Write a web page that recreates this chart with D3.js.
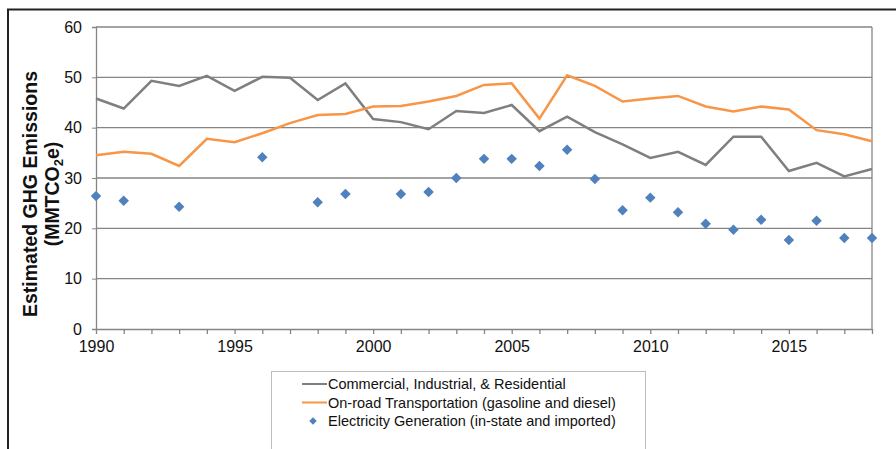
<!DOCTYPE html>
<html>
<head>
<meta charset="utf-8">
<script src="https://cdn.jsdelivr.net/npm/d3@7"></script>
<style>
  body { margin: 0; background: #fff; }
  svg { display: block; font-family: "Liberation Sans", Arial, sans-serif; }
</style>
</head>
<body>
<svg id="chart" width="896" height="449"></svg>
<script>
// data
const years = d3.range(1990, 2019);
const commercial = [45.8, 43.8, 49.3, 48.3, 50.3, 47.3, 50.1, 49.9, 45.5, 48.8, 41.7, 41.1, 39.7, 43.3, 42.9, 44.5, 39.3, 42.2, 39.1, 36.7, 34.0, 35.2, 32.6, 38.2, 38.2, 31.4, 33.0, 30.3, 31.8];
const onroad = [34.5, 35.2, 34.8, 32.4, 37.8, 37.1, 38.9, 40.9, 42.5, 42.7, 44.2, 44.3, 45.2, 46.3, 48.5, 48.8, 41.8, 50.4, 48.3, 45.2, 45.8, 46.3, 44.2, 43.2, 44.2, 43.6, 39.5, 38.7, 37.3];
const electricity = [26.4, 25.5, null, 24.3, null, null, 34.1, null, 25.2, 26.8, null, 26.8, 27.2, 30.0, 33.8, 33.8, 32.4, 35.6, 29.8, 23.6, 26.1, 23.2, 20.9, 19.7, 21.7, 17.7, 21.5, 18.1, 18.1];
const yTicks = [0, 10, 20, 30, 40, 50, 60];
const xTicks = [1990, 1995, 2000, 2005, 2010, 2015];
const legendLabels = [
    "Commercial, Industrial, & Residential",
    "On-road Transportation (gasoline and diesel)",
    "Electricity Generation (in-state and imported)"
];

const colors = { gray: "#7f7f7f", orange: "#f79646", blue: "#4f81bd" };

const svg = d3.select("#chart");
const plotLeft = 96, plotRight = 872, plotTop = 27, plotBottom = 329;

const x = d3.scaleLinear().domain([1990, 2018]).range([plotLeft, plotRight]);
const y = d3.scaleLinear().domain([0, 60]).range([plotBottom, plotTop]);

// outer frame (only left + top visible in reference)
svg.append("path")
    .attr("d", `M8,449 V9.5 H896`)
    .attr("fill", "none")
    .attr("stroke", "#222")
    .attr("stroke-width", 2);

// gridlines
svg.append("g")
    .selectAll("line")
    .data(yTicks.filter(d => d > 0))
    .enter().append("line")
    .attr("x1", plotLeft).attr("x2", plotRight)
    .attr("y1", d => y(d)).attr("y2", d => y(d))
    .attr("stroke", "#858585")
    .attr("stroke-width", 1.3);

// right border of plot area
svg.append("line")
    .attr("x1", plotRight).attr("x2", plotRight)
    .attr("y1", plotTop).attr("y2", plotBottom)
    .attr("stroke", "#858585")
    .attr("stroke-width", 1.3);

// y axis
const yAxis = svg.append("g")
    .attr("transform", `translate(${plotLeft},0)`)
    .call(d3.axisLeft(y).tickValues(yTicks).tickSize(4).tickPadding(10));
yAxis.select(".domain").attr("stroke", "#858585").attr("stroke-width", 1.3);
yAxis.selectAll(".tick line").attr("stroke", "#858585");
yAxis.selectAll("text").attr("font-size", 16).attr("fill", "#111");

// x axis, minor ticks every year
const xAxis = svg.append("g")
    .attr("transform", `translate(0,${plotBottom})`)
    .call(d3.axisBottom(x).tickValues(years).tickSize(5).tickSizeOuter(0)
        .tickFormat(d => xTicks.includes(d) ? d : ""));
xAxis.select(".domain").attr("stroke", "#858585").attr("stroke-width", 1.3);
xAxis.selectAll(".tick line").attr("stroke", "#858585").attr("stroke-width", 1.3);
xAxis.selectAll("text").attr("font-size", 16).attr("fill", "#111").attr("dy", "0.95em");

// y axis title
const title = svg.append("text")
    .attr("transform", "translate(37,194) rotate(-90)")
    .attr("text-anchor", "middle")
    .attr("font-size", 19.5)
    .attr("font-weight", "bold")
    .attr("fill", "#111");
title.append("tspan").attr("x", 0).attr("dy", 0).text("Estimated GHG Emissions");
title.append("tspan").attr("x", 0).attr("dy", 22).text("(MMTCO")
    .append("tspan").attr("font-size", 13).attr("dy", 4).text("2")
    .select(function() { return this.parentNode; })
    .append("tspan").attr("dy", -4).text("e)");

// lines
const line = d3.line().x((d, i) => x(years[i])).y(d => y(d));

svg.append("path")
    .datum(commercial)
    .attr("d", line)
    .attr("fill", "none")
    .attr("stroke", colors.gray)
    .attr("stroke-width", 2.5);

svg.append("path")
    .datum(onroad)
    .attr("d", line)
    .attr("fill", "none")
    .attr("stroke", colors.orange)
    .attr("stroke-width", 2.5);

// diamonds
const diamond = d3.symbol().type(d3.symbolDiamond2).size(70);
svg.append("g")
    .selectAll("path")
    .data(years.map((yr, i) => ({ yr, v: electricity[i] })).filter(d => d.v != null))
    .enter().append("path")
    .attr("d", diamond)
    .attr("transform", d => `translate(${x(d.yr)},${y(d.v)})`)
    .attr("fill", colors.blue);

// legend
const legend = svg.append("g");
legend.append("rect")
    .attr("x", 271.5).attr("y", 371.5)
    .attr("width", 374).attr("height", 90)
    .attr("fill", "#fff")
    .attr("stroke", "#bdbdbd");

const rowY = [384, 402.5, 421];
legendLabels.forEach((label, i) => {
    const g = legend.append("g").attr("transform", `translate(0,${rowY[i]})`);
    if (i < 2) {
        g.append("line")
            .attr("x1", 302).attr("x2", 327)
            .attr("stroke", i === 0 ? colors.gray : colors.orange)
            .attr("stroke-width", 2);
    } else {
        g.append("path")
            .attr("d", d3.symbol().type(d3.symbolDiamond2).size(36))
            .attr("transform", "translate(313,0)")
            .attr("fill", colors.blue);
    }
    g.append("text")
        .attr("x", 328)
        .attr("dy", "0.35em")
        .attr("font-size", 14.5)
        .attr("fill", "#111")
        .text(label);
});
</script>
</body>
</html>
